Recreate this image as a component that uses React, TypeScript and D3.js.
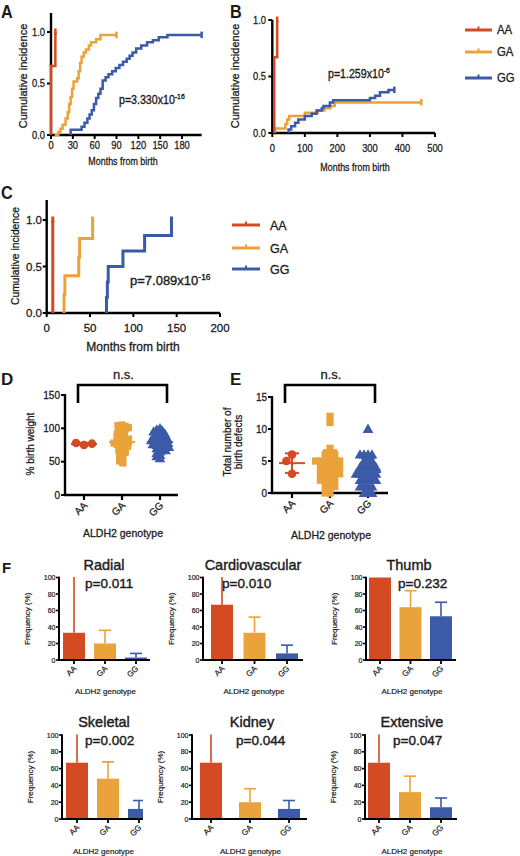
import React from 'react';
import * as d3 from 'd3';

const FONT = '"Liberation Sans", Arial, Helvetica, sans-serif';
const INK = '#1b1b1b';
const genotypes = ['AA', 'GA', 'GG'];
const colors = ['#d44a22', '#eaa23a', '#3b5aa7'];

// ---------- Panel A (cumulative incidence) ----------
const aTicksX = [0, 30, 60, 90, 120, 150, 180];
const kmTicksY = [0, 0.5, 1.0];
const aStart = [0, 5, 27];
const aEnd = [6, 90, 207];
const aAA_t = [0, 6];
const aAA_y = [0.67, 1.0];
const aGA_t = [10, 13, 16, 20, 23, 25, 27, 29, 31, 36, 38, 40, 42, 45, 48, 52, 55, 62, 68];
const aGA_y = [0.03, 0.06, 0.1, 0.16, 0.22, 0.3, 0.37, 0.45, 0.52, 0.55, 0.62, 0.7, 0.76, 0.8, 0.83, 0.87, 0.9, 0.93, 0.97];
const aGG_t = [27, 42, 46, 50, 53, 56, 59, 62, 65, 68, 71, 75, 79, 84, 89, 94, 99, 104, 108, 112, 117, 124, 132, 140, 148, 160];
const aGG_y = [0.05, 0.08, 0.12, 0.16, 0.2, 0.24, 0.3, 0.36, 0.4, 0.45, 0.53, 0.56, 0.59, 0.62, 0.65, 0.68, 0.71, 0.74, 0.77, 0.8, 0.84, 0.87, 0.9, 0.92, 0.95, 0.97];

// ---------- Panel B ----------
const bTicksX = [0, 100, 200, 300, 400, 500];
const bStart = [6, 8, 50];
const bEnd = [15, 458, 375];
const bAA_t = [6, 15];
const bAA_y = [0.67, 1.0];
const bGA_t = [8, 40, 46, 52, 100, 140, 160, 178, 192];
const bGA_y = [0.04, 0.08, 0.12, 0.15, 0.18, 0.2, 0.22, 0.24, 0.27];
const bGG_t = [50, 58, 70, 80, 100, 121, 136, 152, 157, 177, 187, 300, 316, 331, 357];
const bGG_y = [0.03, 0.06, 0.09, 0.12, 0.15, 0.17, 0.2, 0.22, 0.24, 0.27, 0.29, 0.31, 0.33, 0.36, 0.38];

// ---------- Panel C ----------
const cTicksX = [0, 50, 100, 150, 200];
const cStart = [7, 20, 69];
const cEnd = [7, 53, 144];
const cAA_t = [7];
const cAA_y = [1.0];
const cGA_t = [20, 21, 37, 38, 53];
const cGA_y = [0.2, 0.4, 0.6, 0.8, 1.0];
const cGG_t = [69, 70, 71, 88, 113, 144];
const cGG_y = [0.167, 0.333, 0.5, 0.667, 0.833, 1.0];

const pValuesKM = [['p=3.330x10', '-16'], ['p=1.259x10', '-6'], ['p=7.089x10', '-16']];

// ---------- Panel D (% birth weight) ----------
const dTicksY = [0, 50, 100, 150];
const dAA = [75, 78, 77];
const dGA = [105, 104, 103, 101, 99, 97, 95, 93, 92, 90, 88, 87, 85, 84, 82, 81, 80, 79, 78, 77, 76, 75, 73, 72, 70, 68, 66, 64, 62, 60, 57, 54, 51, 48];
const dGG = [100, 98, 96, 95, 93, 92, 90, 88, 87, 86, 85, 84, 83, 82, 81, 80, 79, 78, 77, 76, 75, 74, 73, 72, 70, 69, 67, 65, 63, 60, 58, 55];

// ---------- Panel E (number of birth defects) ----------
const eTicksY = [0, 5, 10, 15];
const eAA = [3, 6, 5];
const eGA = [12, 11, 7, 6, 6, 6, 5, 5, 5, 5, 5, 5, 4, 4, 4, 4, 4, 3, 3, 3, 3, 3, 2, 2, 2, 2, 1, 1, 1, 0, 0];
const eGG = [10, 6, 6, 6, 6, 5, 5, 5, 4, 4, 4, 4, 4, 3, 3, 3, 3, 3, 3, 2, 2, 2, 2, 2, 1, 1, 1, 1, 0, 0, 0];

// ---------- Panel F (frequency bars) ----------
const fTitles = ['Radial', 'Cardiovascular', 'Thumb', 'Skeletal', 'Kidney', 'Extensive'];
const fPvals = ['p=0.011', 'p=0.010', 'p=0.232', 'p=0.002', 'p=0.044', 'p=0.047'];
const fAA = [33, 67, 100, 67, 67, 67];
const fGA = [20, 33, 64, 48, 20, 32];
const fGG = [3, 8, 53, 12, 12, 14];
const fAA_sd = [70, 58, 0, 58, 58, 58];
const fGA_sd = [16, 19, 20, 20, 16, 19];
const fGG_sd = [5, 10, 17, 10, 10, 11];
const fTicksY = [0, 20, 40, 60, 80, 100];

// ---------- helpers ----------
function T(props: any) {
  const { x, y, s = 11, sx = 1, anchor = 'start', rot = 0, bold = false, children, fill = INK, sw = 0.28 } = props;
  return (
    <text
      transform={`translate(${x},${y}) rotate(${rot}) scale(${sx},1)`}
      fontSize={s}
      fontFamily={FONT}
      fontWeight={bold ? 700 : 400}
      textAnchor={anchor}
      fill={fill}
      stroke={bold ? 'none' : fill}
      strokeWidth={sw}
    >
      {children}
    </text>
  );
}

function kmPoints(start: number, t: number[], y: number[], end: number) {
  const pts: [number, number][] = [[start, 0]];
  t.forEach((ti, i) => pts.push([ti, y[i]]));
  pts.push([end, y[y.length - 1]]);
  return pts;
}

function KM(props: any) {
  const { cfg } = props;
  const { xs, ys, axisTop, xMax, xTicks, series, lw, tickFs, sx, tickY, yTickX, title, ylab, p, legend } = cfg;
  const line = d3
    .line<[number, number]>()
    .x((d) => xs(d[0]))
    .y((d) => ys(d[1]))
    .curve(d3.curveStepAfter);
  const x0 = xs(0);
  const y0 = ys(0);
  const order = [1, 2, 0];
  return (
    <g>
      <line x1={x0} x2={x0} y1={axisTop} y2={y0 + 1} stroke="#000" strokeWidth={2.4} />
      <line x1={x0 - 1} x2={xs(xMax)} y1={y0} y2={y0} stroke="#000" strokeWidth={2.4} />
      {kmTicksY.map((v: number) => (
        <g key={'yt' + v}>
          <line x1={x0 - 4} x2={x0} y1={ys(v)} y2={ys(v)} stroke="#000" strokeWidth={2} />
          <T x={yTickX} y={ys(v) + tickFs * 0.36} s={tickFs} sx={sx} anchor="end">
            {v.toFixed(1)}
          </T>
        </g>
      ))}
      {xTicks.map((v: number) => (
        <g key={'xt' + v}>
          <line x1={xs(v)} x2={xs(v)} y1={y0} y2={y0 + 4} stroke="#000" strokeWidth={2} />
          <T x={xs(v)} y={tickY} s={tickFs} sx={sx} anchor="middle">
            {v}
          </T>
        </g>
      ))}
      <T x={title.x} y={title.y} s={title.fs} sx={sx} anchor="middle">
        Months from birth
      </T>
      <T x={ylab.x} y={ylab.y} s={ylab.fs} rot={-90} anchor="middle">
        Cumulative incidence
      </T>
      {order.map((i) => {
        const s = series[i];
        const pts = kmPoints(s.start, s.t, s.y, s.end);
        const last = pts[pts.length - 1];
        return (
          <g key={'s' + i}>
            <path d={line(pts) || ''} fill="none" stroke={colors[i]} strokeWidth={lw} strokeLinejoin="miter" />
            <line
              x1={xs(last[0])}
              x2={xs(last[0])}
              y1={ys(last[1]) - 3.5}
              y2={ys(last[1]) + 3}
              stroke={colors[i]}
              strokeWidth={lw}
            />
          </g>
        );
      })}
      <text
        x={p.x}
        y={p.y}
        fontSize={p.fs}
        fontFamily={FONT}
        fill={INK}
        stroke={INK}
        strokeWidth={0.35}
        transform={`translate(${p.x},0) scale(${sx},1) translate(${-p.x},0)`}
      >
        {p.base}
        <tspan dy={-p.fs * 0.42} fontSize={p.fs * 0.65}>
          {p.exp}
        </tspan>
      </text>
      {legend &&
        genotypes.map((g, i) => (
          <g key={'lg' + g}>
            <line x1={legend.x1} x2={legend.x2} y1={legend.ys[i]} y2={legend.ys[i]} stroke={colors[i]} strokeWidth={3} />
            <line
              x1={(legend.x1 + legend.x2) / 2}
              x2={(legend.x1 + legend.x2) / 2}
              y1={legend.ys[i] - 3.5}
              y2={legend.ys[i]}
              stroke={colors[i]}
              strokeWidth={2}
            />
            <T x={legend.tx} y={legend.ys[i] + legend.fs * 0.36} s={legend.fs} sx={legend.sx}>
              {g}
            </T>
          </g>
        ))}
    </g>
  );
}

function swarm(values: number[], ys: (v: number) => number, cx: number, minD: number) {
  const placed: { x: number; y: number }[] = [];
  const out: { x: number; y: number; v: number }[] = [];
  values.forEach((v) => {
    const y = ys(v);
    let chosen = cx;
    for (let k = 0; k < 200; k++) {
      const off = (k % 2 === 0 ? 1 : -1) * Math.ceil(k / 2) * 0.8;
      const x = cx + off;
      const ok = placed.every((p) => (p.x - x) ** 2 + (p.y - y) ** 2 >= minD * minD);
      if (ok) {
        chosen = x;
        break;
      }
    }
    placed.push({ x: chosen, y });
    out.push({ x: chosen, y, v });
  });
  return out;
}

function Marker(props: any) {
  const { kind, x, y, color } = props;
  if (kind === 0) return <circle cx={x} cy={y} r={4.3} fill={color} />;
  if (kind === 1) return <rect x={x - 3.6} y={y - 3.6} width={7.2} height={7.2} fill={color} />;
  const tri = d3.symbol().type(d3.symbolTriangle).size(50)() || '';
  return <path d={tri} transform={`translate(${x},${y + 0.8})`} fill={color} />;
}

function Dot(props: any) {
  const { cfg } = props;
  const { ys, x0, x1, cats, ticks, data, minD, ylab, xlab, bracket } = cfg;
  const xp = d3.scalePoint<string>().domain(genotypes).range(cats);
  const y0 = ys(0);
  const yTop = ys(ticks[ticks.length - 1]);
  return (
    <g>
      <line x1={x0} x2={x0} y1={yTop - 1} y2={y0 + 1} stroke="#000" strokeWidth={2.4} />
      <line x1={x0 - 1} x2={x1} y1={y0} y2={y0} stroke="#000" strokeWidth={2.4} />
      {ticks.map((v: number) => (
        <g key={'t' + v}>
          <line x1={x0 - 4} x2={x0} y1={ys(v)} y2={ys(v)} stroke="#000" strokeWidth={2} />
          <T x={x0 - 5} y={ys(v) + 3.5} s={10} anchor="end">
            {v}
          </T>
        </g>
      ))}
      {genotypes.map((g) => (
        <g key={'xt' + g}>
          <line x1={xp(g)} x2={xp(g)} y1={y0} y2={y0 + 5} stroke="#000" strokeWidth={2.2} />
          <T x={(xp(g) as number) + 4} y={y0 + 11} s={10} rot={-45} anchor="end">
            {g}
          </T>
        </g>
      ))}
      <T x={xlab.x} y={xlab.y} s={10.5} anchor="middle">
        ALDH2 genotype
      </T>
      {ylab.lines.map((l: string, i: number) => (
        <T key={'yl' + i} x={ylab.x + i * 11} y={ylab.y} s={10} rot={-90} anchor="middle">
          {l}
        </T>
      ))}
      {data.map((vals: number[], gi: number) => {
        const cx = xp(genotypes[gi]) as number;
        const pts = swarm(vals, ys, cx, minD[gi]);
        const m = d3.mean(vals) as number;
        const sd = d3.deviation(vals) as number;
        return (
          <g key={'g' + gi}>
            {pts.map((p, i) => (
              <Marker key={i} kind={gi} x={p.x} y={p.y} color={colors[gi]} />
            ))}
            <line x1={cx} x2={cx} y1={ys(m - sd)} y2={ys(m + sd)} stroke={colors[gi]} strokeWidth={2} />
            <line x1={cx - 13} x2={cx + 13} y1={ys(m)} y2={ys(m)} stroke={colors[gi]} strokeWidth={2} />
            <line x1={cx - 7} x2={cx + 7} y1={ys(m + sd)} y2={ys(m + sd)} stroke={colors[gi]} strokeWidth={2} />
            <line x1={cx - 7} x2={cx + 7} y1={ys(m - sd)} y2={ys(m - sd)} stroke={colors[gi]} strokeWidth={2} />
          </g>
        );
      })}
      <path
        d={`M${bracket.xa},${bracket.yb}V${bracket.yt}H${bracket.xb}V${bracket.yb}`}
        fill="none"
        stroke="#000"
        strokeWidth={2.6}
      />
      <T x={(bracket.xa + bracket.xb) / 2 + 1} y={bracket.yt - 6} s={13} anchor="middle">
        n.s.
      </T>
    </g>
  );
}

const fLayout = [
  { x0: 59, x1: 150, c0: 74, c1: 136, row: 0, tx: 104, px: 85 },
  { x0: 203, x1: 303, c0: 222, c1: 287, row: 0, tx: 253, px: 222 },
  { x0: 366, x1: 456, c0: 380, c1: 441, row: 0, tx: 409, px: 398 },
  { x0: 62, x1: 143, c0: 77, c1: 139, row: 1, tx: 104, px: 85 },
  { x0: 192, x1: 307, c0: 211, c1: 289, row: 1, tx: 252, px: 236 },
  { x0: 365, x1: 457, c0: 379, c1: 441, row: 1, tx: 412, px: 393 },
];
const fRows = [
  { y0: 660, y100: 577.5, ty: 570, py: 588, lab: 694 },
  { y0: 819, y100: 735, ty: 727, py: 745, lab: 854 },
];

function Bars(props: any) {
  const { idx } = props;
  const L = fLayout[idx];
  const R = fRows[L.row];
  const ys = d3.scaleLinear().domain([0, 100]).range([R.y0, R.y100]);
  const xp = d3.scalePoint<string>().domain(genotypes).range([L.c0, L.c1]);
  const means = [fAA[idx], fGA[idx], fGG[idx]];
  const sds = [fAA_sd[idx], fGA_sd[idx], fGG_sd[idx]];
  const bw = 22;
  const clipId = 'fclip' + idx;
  return (
    <g>
      <defs>
        <clipPath id={clipId}>
          <rect x={L.x0} y={R.y100 - 0.5} width={L.x1 - L.x0} height={R.y0 - R.y100 + 0.5} />
        </clipPath>
      </defs>
      <g clipPath={`url(#${clipId})`}>
        {genotypes.map((g, i) => {
          const cx = xp(g) as number;
          const top = ys(means[i]);
          const up = ys(means[i] + sds[i]);
          return (
            <g key={g}>
              {sds[i] > 0 && (
                <g>
                  <line x1={cx} x2={cx} y1={top} y2={up} stroke={colors[i]} strokeWidth={1.6} />
                  <line x1={cx - 6} x2={cx + 6} y1={up} y2={up} stroke={colors[i]} strokeWidth={1.6} />
                </g>
              )}
              <rect x={cx - bw / 2} y={top} width={bw} height={R.y0 - top} fill={colors[i]} />
            </g>
          );
        })}
      </g>
      <line x1={L.x0} x2={L.x0} y1={R.y100 - 0.8} y2={R.y0 + 1} stroke="#000" strokeWidth={2} />
      <line x1={L.x0 - 1} x2={L.x1} y1={R.y0} y2={R.y0} stroke="#000" strokeWidth={2} />
      {fTicksY.map((v) => (
        <g key={'t' + v}>
          <line x1={L.x0 - 3} x2={L.x0} y1={ys(v)} y2={ys(v)} stroke="#000" strokeWidth={1.6} />
          <T x={L.x0 - 3.5} y={ys(v) + 2.5} s={7} anchor="end" sw={0.2}>
            {v}
          </T>
        </g>
      ))}
      {genotypes.map((g) => (
        <g key={'x' + g}>
          <line x1={xp(g)} x2={xp(g)} y1={R.y0} y2={R.y0 + 4} stroke="#000" strokeWidth={1.8} />
          <T x={(xp(g) as number) + 3} y={R.y0 + 9} s={8} rot={-45} anchor="end" sw={0.2}>
            {g}
          </T>
        </g>
      ))}
      <T x={(L.x0 + L.x1) / 2 + 1} y={R.lab} s={8} anchor="middle" sw={0.2}>
        ALDH2 genotype
      </T>
      <T x={L.x0 - 29} y={(R.y0 + R.y100) / 2} s={8} rot={-90} anchor="middle" sw={0.2}>
        Frequency (%)
      </T>
      <T x={L.tx} y={R.ty} s={14.5} anchor="middle" sw={0.4}>
        {fTitles[idx]}
      </T>
      <T x={L.px} y={R.py} s={13.5} sw={0.4}>
        {fPvals[idx]}
      </T>
    </g>
  );
}

export default function App() {
  const mk = (start: number[], end: number[], tt: number[][], yy: number[][]) =>
    [0, 1, 2].map((i) => ({ start: start[i], end: end[i], t: tt[i], y: yy[i] }));

  const cfgA = {
    xs: d3.scaleLinear().domain([0, 180]).range([51, 182]),
    ys: d3.scaleLinear().domain([0, 1]).range([135, 32]),
    axisTop: 13,
    xMax: 207,
    xTicks: aTicksX,
    series: mk(aStart, aEnd, [aAA_t, aGA_t, aGG_t], [aAA_y, aGA_y, aGG_y]),
    lw: 2.5,
    tickFs: 11,
    sx: 0.85,
    tickY: 149,
    yTickX: 45,
    title: { x: 123, y: 165, fs: 10.5 },
    ylab: { x: 27, y: 76, fs: 11 },
    p: { x: 119, y: 104, fs: 12.5, base: pValuesKM[0][0], exp: pValuesKM[0][1] },
    legend: null,
  };
  const cfgB = {
    xs: d3.scaleLinear().domain([0, 500]).range([272.3, 435]),
    ys: d3.scaleLinear().domain([0, 1]).range([133, 20]),
    axisTop: 20,
    xMax: 500,
    xTicks: bTicksX,
    series: mk(bStart, bEnd, [bAA_t, bGA_t, bGG_t], [bAA_y, bGA_y, bGG_y]),
    lw: 2.5,
    tickFs: 11,
    sx: 0.85,
    tickY: 152,
    yTickX: 266,
    title: { x: 355, y: 171, fs: 10.5 },
    ylab: { x: 239, y: 76, fs: 11 },
    p: { x: 328, y: 78, fs: 12.5, base: pValuesKM[1][0], exp: pValuesKM[1][1] },
    legend: { x1: 465, x2: 492, ys: [30, 52, 78], tx: 497, fs: 12, sx: 0.95 },
  };
  const cfgC = {
    xs: d3.scaleLinear().domain([0, 200]).range([46.7, 220]),
    ys: d3.scaleLinear().domain([0, 1]).range([313, 220]),
    axisTop: 200,
    xMax: 200,
    xTicks: cTicksX,
    series: mk(cStart, cEnd, [cAA_t, cGA_t, cGG_t], [cAA_y, cGA_y, cGG_y]),
    lw: 3,
    tickFs: 11.5,
    sx: 1,
    tickY: 332,
    yTickX: 42,
    title: { x: 133, y: 351, fs: 12 },
    ylab: { x: 19, y: 256, fs: 10.3 },
    p: { x: 130, y: 285, fs: 13, base: pValuesKM[2][0], exp: pValuesKM[2][1] },
    legend: { x1: 232, x2: 260, ys: [225, 248, 269], tx: 270, fs: 12.5, sx: 1 },
  };

  const cfgD = {
    ys: d3.scaleLinear().domain([0, 150]).range([495, 395]),
    x0: 65,
    x1: 178,
    cats: [84, 160],
    ticks: dTicksY,
    data: [dAA, dGA, dGG],
    minD: [7.5, 3.3, 3.3],
    ylab: { x: 34, y: 444, lines: ['% birth weight'] },
    xlab: { x: 123, y: 537 },
    bracket: { xa: 78, xb: 167, yt: 385, yb: 403 },
  };
  const cfgE = {
    ys: d3.scaleLinear().domain([0, 15]).range([493, 397]),
    x0: 272,
    x1: 388,
    cats: [292, 368],
    ticks: eTicksY,
    data: [eAA, eGA, eGG],
    minD: [8.5, 4.2, 4.0],
    ylab: { x: 231, y: 442, lines: ['Total number of', 'birth defects'] },
    xlab: { x: 331, y: 539 },
    bracket: { xa: 285, xb: 375, yt: 385, yb: 403 },
  };

  return (
    <svg
      width={520}
      height={856}
      viewBox="0 0 520 856"
      style={{ position: 'absolute', left: 0, top: 0, background: '#fff' }}
    >
      <rect x={0} y={0} width={520} height={856} fill="#fff" />
      <T x={1} y={18} s={18} bold sx={0.9}>A</T>
      <T x={230} y={18} s={18} bold sx={0.9}>B</T>
      <T x={1} y={199} s={18} bold sx={0.9}>C</T>
      <T x={1} y={385} s={17} bold>D</T>
      <T x={230} y={385} s={17} bold>E</T>
      <T x={2} y={573} s={15} bold>F</T>
      <KM cfg={cfgA} />
      <KM cfg={cfgB} />
      <KM cfg={cfgC} />
      <Dot cfg={cfgD} />
      <Dot cfg={cfgE} />
      {fTitles.map((_, i) => (
        <Bars key={i} idx={i} />
      ))}
    </svg>
  );
}
